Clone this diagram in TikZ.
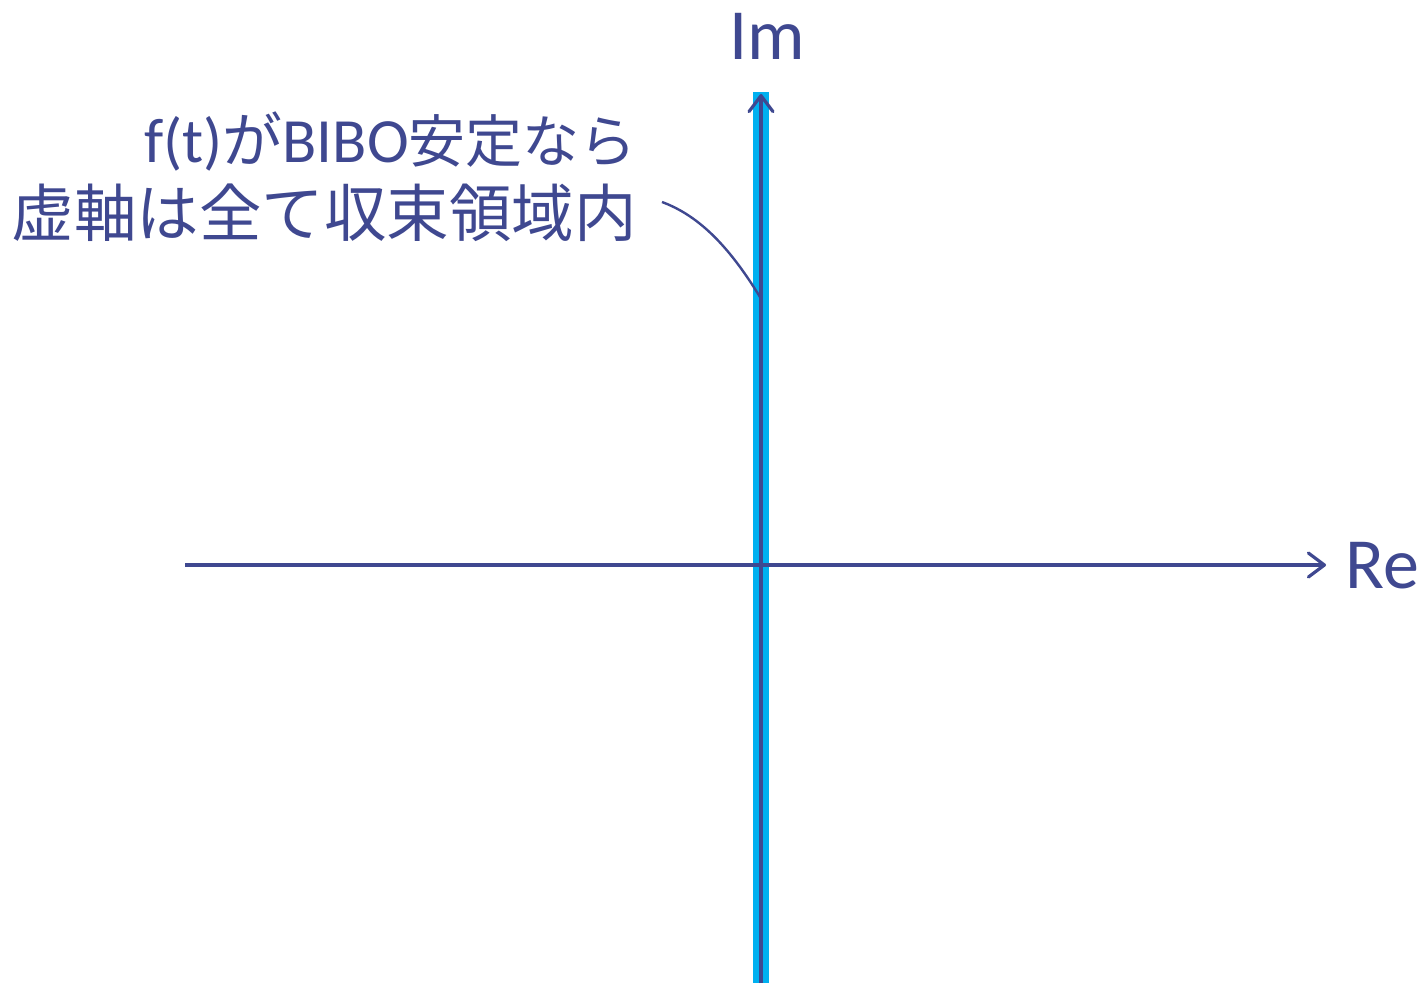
\documentclass[tikz,border=0pt]{standalone}
\usepackage{fontspec}
\setmainfont{Carlito}
\newfontfamily\cjk{Noto Sans CJK JP}
\usetikzlibrary{arrows.meta}
\definecolor{axisblue}{RGB}{63,72,144}
\definecolor{bandcyan}{RGB}{0,176,240}
\begin{document}
\begin{tikzpicture}[x=1pt,y=-1pt,
  axisline/.style={draw=axisblue,line width=3.6pt,-{Straight Barb[length=16pt,width=24pt,line width=3.2pt,round]}},
  lbl/.style={inner sep=0pt,text=axisblue},
  leader/.style={draw=axisblue,line width=2.4pt}]
\useasboundingbox (0,0) rectangle (1422,983);
\fill[bandcyan] (753,92) rectangle (769,983);
\coordinate (ybot) at (761,983);
\coordinate (ytop) at (761,94);
\coordinate (xl) at (185,565);
\coordinate (xr) at (1326,565);
\draw[axisline] (xl) -- (xr);
\draw[axisline] (ybot) -- (ytop);
\node[lbl,anchor=base west,font=\fontsize{72}{80}\selectfont] (im) at (729,59) {Im};
\node[lbl,anchor=base west,font=\fontsize{72}{80}\selectfont] (re) at (1345,588) {Re};
\node[lbl,anchor=base east,font=\fontsize{63}{70}\selectfont] (l1) at (637,162) {f(t){\cjk\fontsize{60}{70}\selectfont が}BIBO{\cjk\fontsize{57}{70}\selectfont 安定なら}};
\node[lbl,anchor=base east,font=\fontsize{62.5}{70}\selectfont\cjk] (l2) at (637,236) {虚軸は全て収束領域内};
\coordinate (ls) at (662,202);
\coordinate (le) at (760,297);
\draw[leader] (ls) .. controls (700,216) and (730,248) .. (le);
\end{tikzpicture}
\end{document}
